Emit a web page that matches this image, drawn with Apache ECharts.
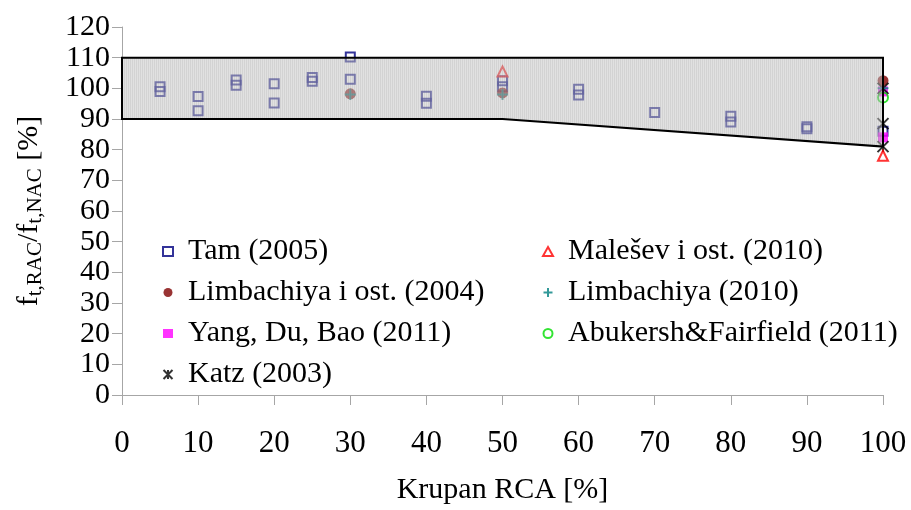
<!DOCTYPE html>
<html>
<head>
<meta charset="utf-8">
<script src="https://cdn.jsdelivr.net/npm/echarts@6/dist/echarts.min.js"></script>
<style>
  html, body { margin: 0; padding: 0; background: #fff; }
  #ftChart { width: 911px; height: 510px; }
</style>
</head>
<body>
<div id="ftChart"></div>
<script>
// odnos f_t,RAC / f_t,NAC u zavisnosti od udela krupnog RCA
const xTicks = [0, 10, 20, 30, 40, 50, 60, 70, 80, 90, 100];
const yTicks = [0, 10, 20, 30, 40, 50, 60, 70, 80, 90, 100, 110, 120];

// granice sivog pojasa
const bandX = [0, 100, 100, 50, 0];
const bandY = [110, 110, 81, 90, 90];

const tamX = [5, 5, 10, 10, 15, 15, 20, 20, 25, 25, 30, 30, 40, 40, 50, 50, 60, 60, 70, 80, 80, 90, 90, 100];
const tamY = [100.5, 99, 97.3, 92.7, 102.7, 101, 101.5, 95.2, 103.5, 102.3, 110.2, 103, 97.4, 95.1, 102.5, 100.5, 99.7, 97.8, 92.1, 90.9, 89, 87.5, 86.8, 86];

const limb2004X = [30, 50, 100];
const limb2004Y = [98.2, 98.5, 102.5];

const yangX = [100, 100];
const yangY = [99, 84];

const katzX = [100, 100, 100];
const katzY = [100, 88.5, 81];

const malesevX = [50, 100];
const malesevY = [105.5, 78];

const limb2010X = [30, 50, 100];
const limb2010Y = [98, 98, 100];

const abukershX = [100];
const abukershY = [97];

function pairs(xs, ys) {
  return xs.map((x, i) => [x, ys[i]]);
}

// fina vertikalna srafura pojasa
const hatch = document.createElement('canvas');
hatch.width = 2;
hatch.height = 4;
const hctx = hatch.getContext('2d');
hctx.fillStyle = 'rgba(175,175,175,0.55)';
hctx.fillRect(0, 0, 1, 4);
hctx.fillStyle = 'rgba(195,195,195,0.5)';
hctx.fillRect(1, 0, 1, 4);

const serif = 'Liberation Serif';
const hollow = 'transparent';
const legendText = { fontFamily: serif, fontSize: 30, color: '#000', lineHeight: 31, padding: [0, 0, 0, 10] };

const myChart = echarts.init(document.getElementById('ftChart'));
const chartOption = {
  animation: false,
  grid: {
    left: 122,
    right: 28,
    top: 27,
    bottom: 108
  },
  legend: [
    {
      orient: 'vertical',
      left: 162,
      top: 236,
      padding: 0,
      itemWidth: 10,
      itemHeight: 9,
      itemGap: 10,
      textStyle: legendText,
      data: ['Tam (2005)', 'Limbachiya i ost. (2004)', 'Yang, Du, Bao (2011)', 'Katz (2003)']
    },
    {
      orient: 'vertical',
      left: 542,
      top: 236,
      padding: 0,
      itemWidth: 10,
      itemHeight: 9,
      itemGap: 10,
      textStyle: legendText,
      data: ['Malešev i ost. (2010)', 'Limbachiya (2010)', 'Abukersh&Fairfield (2011)']
    }
  ],
  xAxis: {
    type: 'value',
    min: xTicks[0],
    max: xTicks[xTicks.length - 1],
    interval: 10,
    name: 'Krupan RCA [%]',
    nameLocation: 'middle',
    nameGap: 80,
    nameTextStyle: { fontFamily: serif, fontSize: 30, color: '#000' },
    axisLine: { lineStyle: { color: '#a6a6a6', width: 1 } },
    axisTick: { show: true, length: 10, lineStyle: { color: '#a6a6a6' } },
    axisLabel: { margin: 33, fontFamily: serif, fontSize: 31, color: '#000', showMinLabel: true, showMaxLabel: true },
    splitLine: { show: false }
  },
  yAxis: {
    type: 'value',
    min: yTicks[0],
    max: yTicks[yTicks.length - 1],
    interval: 10,
    name: '{f|f}{s|t,RAC}{f|/f}{s|t,NAC}{f| [%]}',
    nameLocation: 'middle',
    nameGap: 76,
    nameTextStyle: {
      color: '#000',
      rich: {
        f: { fontFamily: serif, fontSize: 30, lineHeight: 34, color: '#000' },
        s: { fontFamily: serif, fontSize: 21, lineHeight: 21, verticalAlign: 'bottom', color: '#000' }
      }
    },
    axisLine: { show: true, lineStyle: { color: '#a6a6a6', width: 1 } },
    axisTick: { show: true, length: 10, lineStyle: { color: '#a6a6a6' } },
    axisLabel: { margin: 12, fontFamily: serif, fontSize: 30, lineHeight: 30, color: '#000', showMinLabel: true, showMaxLabel: true },
    splitLine: { show: false }
  },
  series: [
    {
      name: 'Tam (2005)',
      type: 'scatter',
      symbol: 'rect',
      symbolSize: 9,
      z: 2,
      itemStyle: { color: hollow, borderColor: '#000080', borderWidth: 2 },
      data: pairs(tamX, tamY)
    },
    {
      name: 'Limbachiya i ost. (2004)',
      type: 'scatter',
      symbol: 'circle',
      symbolSize: 11,
      z: 2,
      itemStyle: { color: '#800000' },
      data: pairs(limb2004X, limb2004Y)
    },
    {
      name: 'Yang, Du, Bao (2011)',
      type: 'scatter',
      symbol: 'rect',
      symbolSize: 10,
      z: 2,
      itemStyle: { color: '#ff00ff' },
      data: pairs(yangX, yangY)
    },
    {
      name: 'Katz (2003)',
      type: 'scatter',
      symbol: 'path://M0,0L10,10M10,0L0,10M5,0L5,10',
      symbolSize: 11,
      z: 2,
      itemStyle: { color: hollow, borderColor: '#000', borderWidth: 2 },
      data: pairs(katzX, katzY)
    },
    {
      name: 'Malešev i ost. (2010)',
      type: 'scatter',
      symbol: 'triangle',
      symbolSize: 10,
      z: 2,
      itemStyle: { color: hollow, borderColor: '#ff0000', borderWidth: 2 },
      data: pairs(malesevX, malesevY)
    },
    {
      name: 'Limbachiya (2010)',
      type: 'scatter',
      symbol: 'path://M5,0L5,10M0,5L10,5',
      symbolSize: 11,
      z: 2,
      itemStyle: { color: hollow, borderColor: '#008080', borderWidth: 2 },
      data: pairs(limb2010X, limb2010Y)
    },
    {
      name: 'Abukersh&Fairfield (2011)',
      type: 'scatter',
      symbol: 'circle',
      symbolSize: 10,
      z: 2,
      itemStyle: { color: hollow, borderColor: '#00dd00', borderWidth: 2 },
      data: pairs(abukershX, abukershY)
    },
    {
      // pojas preko tacaka, poluprovidan
      name: 'pojas',
      type: 'custom',
      z: 5,
      silent: true,
      data: [[bandX[0], bandY[0]]],
      renderItem: function (params, api) {
        const pts = bandX.map((x, i) => api.coord([x, bandY[i]]));
        return {
          type: 'polygon',
          shape: { points: pts },
          style: { fill: { image: hatch, repeat: 'repeat' }, stroke: '#000', lineWidth: 2 }
        };
      }
    }
  ]
};
myChart.setOption(chartOption);
</script>
</body>
</html>
